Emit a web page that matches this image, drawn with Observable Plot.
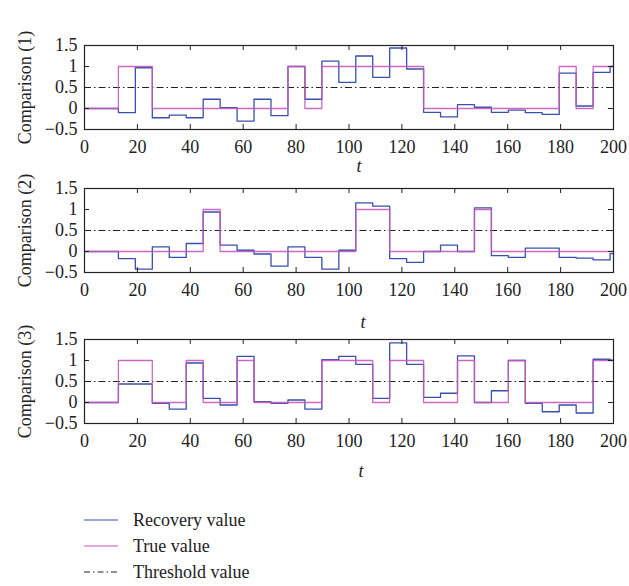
<!DOCTYPE html>
<html>
<head>
<meta charset="utf-8">
<script src="https://cdn.jsdelivr.net/npm/d3@7"></script>
<script src="https://cdn.jsdelivr.net/npm/@observablehq/plot@0.6"></script>
<style>
  body { margin: 0; background: #fff; font-family: "Liberation Serif", "Times New Roman", serif; }
  #chart { position: relative; width: 629px; height: 586px; overflow: hidden; background: #fff; }
  #chart svg.panel { position: absolute; left: 0; }
  .legend { position: absolute; left: 84px; top: 0; font-size: 18px; color: #222; }
  .legend .row { position: absolute; left: 0; display: flex; align-items: center; white-space: nowrap; height: 22px; }
  .legend .row svg { display: block; margin-right: 15px; }
</style>
</head>
<body>
<div id="chart"></div>
<script>
// Sampling interval along t (each value holds for one interval)
const stepT = 6.41;
const tMax = 200;
const thresholdValue = 0.5;

const xTicks = [0, 20, 40, 60, 80, 100, 120, 140, 160, 180, 200];
const yTicks = [-0.5, 0, 0.5, 1, 1.5];
const panelLabels = ["Comparison (1)", "Comparison (2)", "Comparison (3)"];

// Comparison (1)
const recovery1 = [0, 0, -0.1, 0.97, -0.22, -0.16, -0.22, 0.22, 0.02, -0.3, 0.22, -0.17,
  1.0, 0.22, 1.13, 0.62, 1.25, 0.74, 1.44, 0.94, -0.09, -0.2, 0.09, 0.03,
  -0.09, -0.04, -0.1, -0.14, 0.84, 0.06, 0.86, 1.0];
const true1 = [0, 0, 1, 1, 0, 0, 0, 0, 0, 0, 0, 0,
  1, 0, 1, 1, 1, 1, 1, 1, 0, 0, 0, 0,
  0, 0, 0, 0, 1, 0, 1, 1];

// Comparison (2)
const recovery2 = [0, 0, -0.17, -0.42, 0.11, -0.14, 0.19, 0.94, 0.15, 0.03, -0.06, -0.35,
  0.11, -0.14, -0.42, 0.03, 1.16, 1.08, -0.17, -0.26, 0, 0.15, 0, 1.04,
  -0.1, -0.14, 0.08, 0.08, -0.14, -0.16, -0.2, -0.05];
const true2 = [0, 0, 0, 0, 0, 0, 0, 1, 0, 0, 0, 0,
  0, 0, 0, 0, 1, 1, 0, 0, 0, 0, 0, 1,
  0, 0, 0, 0, 0, 0, 0, 0];

// Comparison (3)
const recovery3 = [0, 0, 0.44, 0.44, -0.02, -0.16, 0.94, 0.1, -0.06, 1.1, 0.02, -0.02,
  0.06, -0.16, 1.02, 1.1, 0.91, 0.1, 1.42, 0.91, 0.12, 0.22, 1.11, 0,
  0.28, 1.0, -0.02, -0.22, -0.06, -0.25, 1.03, 1.01];
const true3 = [0, 0, 1, 1, 0, 0, 1, 0, 0, 1, 0, 0,
  0, 0, 1, 1, 1, 0, 1, 1, 0, 0, 1, 0,
  0, 1, 0, 0, 0, 0, 1, 1];

const blue = "#3a4fae";
const pink = "#c858b8";
const ink = "#222";

// Turn a value list into step points, closing at t = tMax
function steps(values) {
  const rows = values.map((v, i) => ({t: i * stepT, v}));
  rows.push({t: tMax, v: values[values.length - 1]});
  return rows;
}

const fmt = d => String(d).replace("-", "\u2212");

// frame top (px) and position of the italic t label below each frame
const panels = [
  {recovery: recovery1, truth: true1, top: 45, tOffset: 37, tShift: 10},
  {recovery: recovery2, truth: true2, top: 188, tOffset: 50, tShift: 14},
  {recovery: recovery3, truth: true3, top: 339, tOffset: 48, tShift: 12}
];

const W = 629, mL = 84, mR = 16, mT = 20, frameH = 84, mB = 62;
const frameW = W - mL - mR;
const tick = 5;
const chart = document.getElementById("chart");

panels.forEach((p, k) => {
  const svg = Plot.plot({
    width: W,
    height: mT + frameH + mB,
    marginLeft: mL,
    marginRight: mR,
    marginTop: mT,
    marginBottom: mB,
    x: {domain: [0, tMax]},
    y: {domain: [-0.5, 1.5]},
    style: {
      fontFamily: "'Liberation Serif', 'Times New Roman', serif",
      fontSize: "18px",
      color: ink,
      background: "transparent",
      overflow: "visible"
    },
    marks: [
      Plot.ruleY([thresholdValue], {stroke: ink, strokeWidth: 1.1, strokeDasharray: "7,3,1.5,3"}),
      Plot.line(steps(p.recovery), {x: "t", y: "v", curve: "step-after", stroke: blue, strokeWidth: 1.3}),
      Plot.line(steps(p.truth), {x: "t", y: "v", curve: "step-after", stroke: pink, strokeWidth: 1.3, strokeOpacity: 0.9}),
      // inward ticks on all four sides
      Plot.ruleX(xTicks.slice(1, -1), {stroke: ink, insetTop: frameH - tick}),
      Plot.ruleX(xTicks.slice(1, -1), {stroke: ink, insetBottom: frameH - tick}),
      Plot.ruleY(yTicks.slice(1, -1), {stroke: ink, insetRight: frameW - tick}),
      Plot.ruleY(yTicks.slice(1, -1), {stroke: ink, insetLeft: frameW - tick}),
      Plot.frame({stroke: ink, strokeWidth: 1.2}),
      Plot.axisX(xTicks, {tickSize: 0, tickPadding: 11, label: null, tickFormat: d => String(d)}),
      Plot.axisY(yTicks, {tickSize: 0, tickPadding: 7, label: null, tickFormat: fmt}),
      Plot.text(["t"], {frameAnchor: "bottom", dx: p.tShift, dy: p.tOffset, fontStyle: "italic", lineAnchor: "middle", fill: ink}),
      Plot.text([panelLabels[k]], {frameAnchor: "left", dx: -59, rotate: -90, textAnchor: "middle", lineAnchor: "middle", fill: ink})
    ]
  });
  svg.classList.add("panel");
  svg.style.top = (p.top - mT) + "px";
  chart.appendChild(svg);
});

// Legend
const legendItems = [
  {label: "Recovery value", color: blue, dash: null, y: 520},
  {label: "True value", color: pink, dash: null, y: 546},
  {label: "Threshold value", color: ink, dash: "6,3,1.5,3", y: 572}
];
const legend = document.createElement("div");
legend.className = "legend";
legendItems.forEach(item => {
  const row = document.createElement("div");
  row.className = "row";
  row.style.top = (item.y - 11) + "px";
  const sw = d3.create("svg").attr("width", 34).attr("height", 10);
  sw.append("line").attr("x1", 0).attr("x2", 34).attr("y1", 5).attr("y2", 5)
    .attr("stroke", item.color).attr("stroke-width", 1.2)
    .attr("stroke-dasharray", item.dash);
  row.appendChild(sw.node());
  const span = document.createElement("span");
  span.textContent = item.label;
  row.appendChild(span);
  legend.appendChild(row);
});
chart.appendChild(legend);
</script>
</body>
</html>
